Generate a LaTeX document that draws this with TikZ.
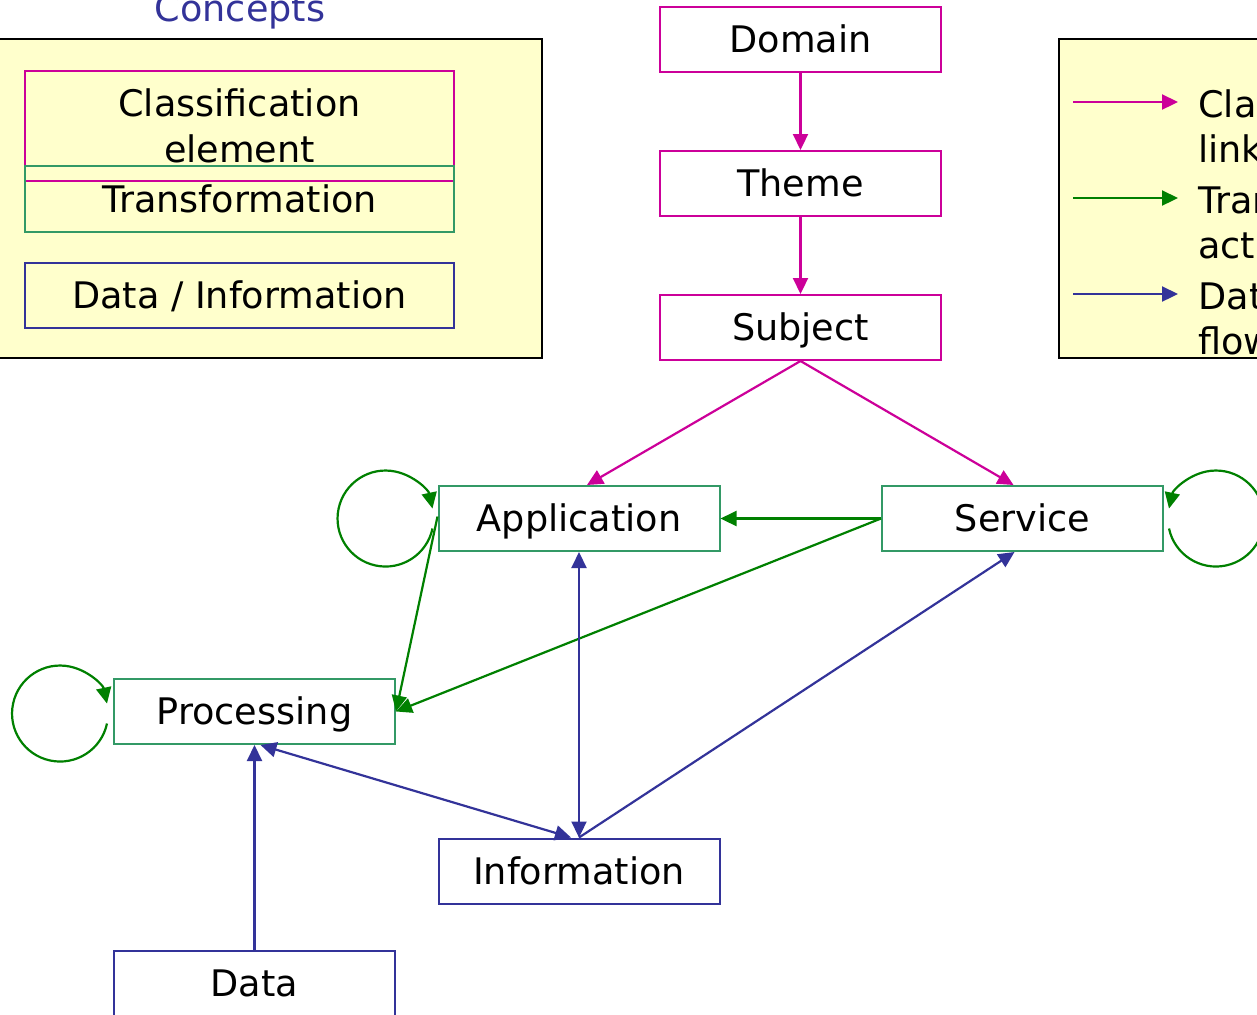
\documentclass[tikz,border=0pt]{standalone}
\usepackage{fontspec}
\setmainfont{DejaVu Sans}
\usetikzlibrary{arrows.meta}

\definecolor{clsmag}{HTML}{CC0099}
\definecolor{trgreen}{HTML}{339966}
\definecolor{flowgreen}{HTML}{008000}
\definecolor{dtblue}{HTML}{333399}
\definecolor{notepad}{HTML}{FFFFCC}

\newcommand\labelfont{\fontsize{18.3}{22.7}\selectfont}

\begin{document}
\begin{tikzpicture}[x=0.5pt, y=-0.5pt,
    >={Triangle[length=8pt, width=7.5pt]},
    every node/.style={font=\labelfont},
    frame/.style={draw, line width=1pt, minimum width=140.5pt, minimum height=32.5pt,
                  inner sep=0pt, align=center},
    elem/.style={frame, text height=17.4pt, text depth=4pt},
    classelem/.style={elem, draw=clsmag},
    transelem/.style={elem, draw=trgreen},
    dataelem/.style={elem, draw=dtblue},
    link/.style={line width=1.1pt},
    classlink/.style={link, clsmag},
    transflow/.style={link, flowgreen},
    dataflow/.style={link, dtblue},
    panel/.style={draw=black, line width=1pt, fill=notepad}]
  \useasboundingbox (0,0) rectangle (1257,1014);
  \clip (0,0) rectangle (1257,1014);

  % Concepts panel
  \draw[panel] (-5,39) rectangle (542,358);
  \node[dtblue, anchor=base] (conctitle) at (240,21.7) {Concepts};
  \node[frame, draw=clsmag, minimum width=214.5pt, minimum height=55pt] (cclass)
       at (239.5,126) {Classification\\element};
  \node[transelem, minimum width=214.5pt, minimum height=33pt] (ctrans) at (239.5,199)
       {Transformation};
  \node[dataelem, minimum width=214.5pt] (cdata) at (239.5,295.5) {Data / Information};

  % Legend panel
  \draw[panel] (1059,39) rectangle (1300,358);
  \coordinate (lgclass) at (1073,102);
  \coordinate (lgtrans) at (1073,198);
  \coordinate (lgdata) at (1073,294);
  \draw[classlink, ->] (lgclass) -- ++(105,0);
  \draw[transflow, ->] (lgtrans) -- ++(105,0);
  \draw[dataflow, ->] (lgdata) -- ++(105,0);
  \node[anchor=base west, align=left, inner sep=0pt] (lgclasstxt) at (1198,162.5)
       {Classification\\link};
  \node[anchor=base west, align=left, inner sep=0pt] (lgtranstxt) at (1198,258.5)
       {Transformation\\action};
  \node[anchor=base west, align=left, inner sep=0pt] (lgdatatxt) at (1198,354.5)
       {Data\\flow};

  % Classification chain
  \node[classelem] (domain) at (800.5,39.5) {Domain};
  \node[classelem] (theme) at (800.5,183.5) {Theme};
  \node[classelem] (subject) at (800.5,327.5) {Subject};

  % Transformations
  \node[transelem] (app) at (579,518.5) {Application};
  \node[transelem] (svc) at (1022.5,518.5) {Service};
  \node[transelem] (proc) at (254.5,711.5) {Processing};

  % Data / information
  \node[dataelem] (info) at (579,871) {Information};
  \node[dataelem] (data) at (254.5,983) {Data};

  % Classification links
  \draw[classlink, ->] (domain) -- (theme);
  \draw[classlink, ->] (theme) -- (subject);
  \draw[classlink, ->] (subject.south) -- ([xshift=4pt]app.north);
  \draw[classlink, ->] (subject.south) -- ([xshift=-4.5pt]svc.north);

  % Transformation actions
  \draw[transflow, ->] (svc.west) -- (app.east);
  \draw[transflow, ->] (svc.west) -- (proc.east);
  \draw[transflow, ->] ([yshift=1pt]app.west) -- (proc.east);
  \draw[transflow, ->] ([xshift=-2.5pt,yshift=-5pt]app.west)
       arc[start angle=12, end angle=348, radius=48];
  \draw[transflow, ->] ([xshift=2.5pt,yshift=-5pt]svc.east)
       arc[start angle=168, end angle=-168, radius=48];
  \draw[transflow, ->] ([xshift=-3pt,yshift=-6pt]proc.west)
       arc[start angle=12, end angle=348, radius=48];

  % Data flows
  \draw[dataflow, <->] (app.south) -- (info.north);
  \draw[dataflow, <->] ([xshift=3pt]proc.south) -- ([xshift=-4pt]info.north);
  \draw[dataflow, ->] (info.north) -- ([xshift=-4pt]svc.south);
  \draw[dataflow, ->] (data) -- (proc);
\end{tikzpicture}
\end{document}
